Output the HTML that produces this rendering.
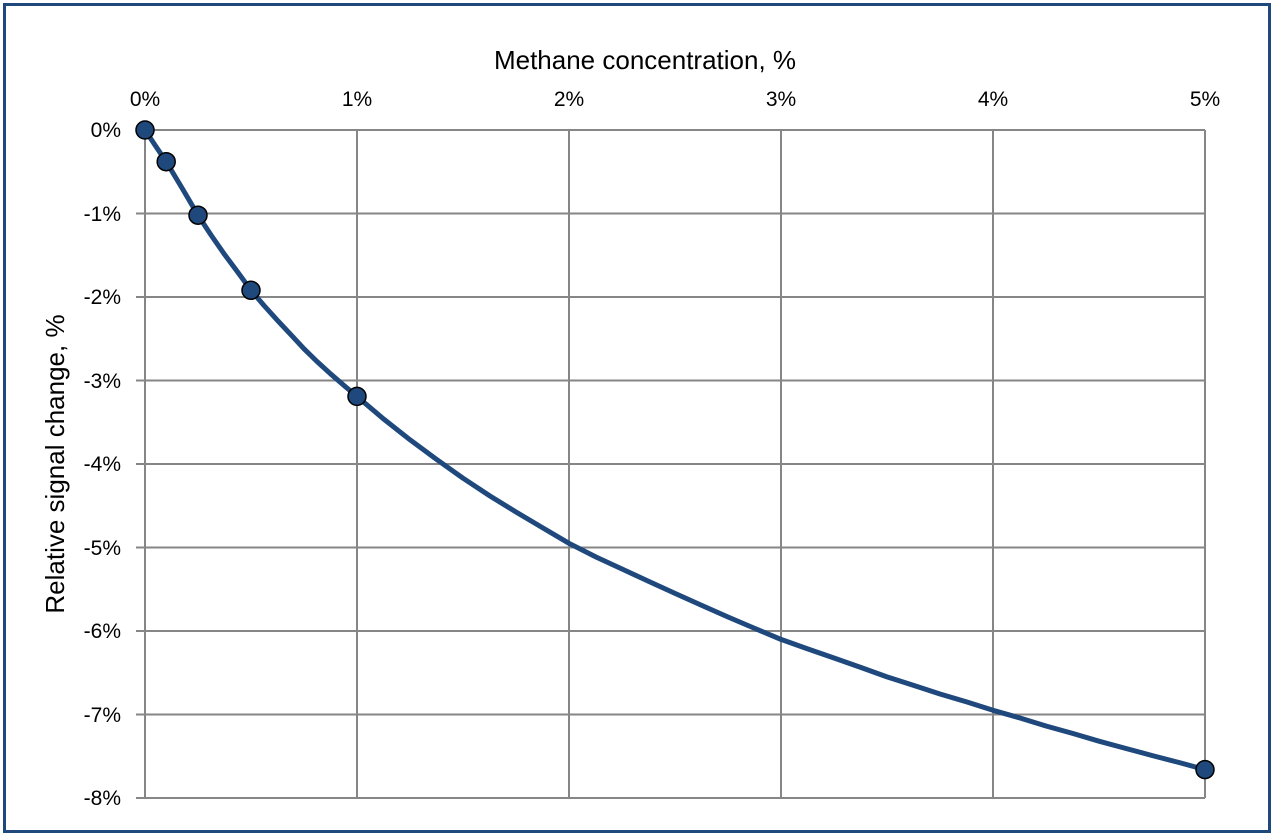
<!DOCTYPE html>
<html><head><meta charset="utf-8"><style>
body{margin:0;background:#fff;}
svg{display:block;font-family:"Liberation Sans",sans-serif;}
</style></head><body>
<svg width="1274" height="836" viewBox="0 0 1274 836">
<rect x="0" y="0" width="1274" height="836" fill="#fff"/>
<rect x="4.5" y="4.5" width="1265" height="827" fill="none" stroke="#1f497d" stroke-width="3"/>
<g stroke="#868686" stroke-width="2" fill="none">
<line x1="136" y1="130" x2="1205" y2="130"/>
<line x1="136" y1="213.5" x2="1205" y2="213.5"/>
<line x1="136" y1="297" x2="1205" y2="297"/>
<line x1="136" y1="380.5" x2="1205" y2="380.5"/>
<line x1="136" y1="464" x2="1205" y2="464"/>
<line x1="136" y1="547.5" x2="1205" y2="547.5"/>
<line x1="136" y1="631" x2="1205" y2="631"/>
<line x1="136" y1="714.5" x2="1205" y2="714.5"/>
<line x1="136" y1="798" x2="1205" y2="798"/>
<line x1="145" y1="130" x2="145" y2="798"/>
<line x1="357" y1="130" x2="357" y2="798"/>
<line x1="569" y1="130" x2="569" y2="798"/>
<line x1="781" y1="130" x2="781" y2="798"/>
<line x1="993" y1="130" x2="993" y2="798"/>
<line x1="1205" y1="130" x2="1205" y2="798"/>
</g>
<g font-size="21" fill="#000" text-anchor="middle">
<text x="145" y="106">0%</text>
<text x="357" y="106">1%</text>
<text x="569" y="106">2%</text>
<text x="781" y="106">3%</text>
<text x="993" y="106">4%</text>
<text x="1205" y="106">5%</text>
</g>
<g font-size="21" fill="#000" text-anchor="end">
<text x="121" y="137">0%</text>
<text x="121" y="221">-1%</text>
<text x="121" y="304">-2%</text>
<text x="121" y="388">-3%</text>
<text x="121" y="471">-4%</text>
<text x="121" y="555">-5%</text>
<text x="121" y="638">-6%</text>
<text x="121" y="722">-7%</text>
<text x="121" y="805">-8%</text>
</g>
<text x="645" y="69" font-size="26" text-anchor="middle">Methane concentration, %</text>
<text transform="translate(64,464) rotate(-90)" font-size="26" text-anchor="middle">Relative signal change, %</text>
<polyline fill="none" stroke="#1f497d" stroke-width="5" stroke-linejoin="round" stroke-linecap="round"
points="145,130 155.6,146 166.2,161.7 182,188 198,215.2 211,235 224.5,254.4 238,272.5 251,290.3 264,305.5 277.5,320.4 291,334.8 304,348.8 317,361.5 330.5,373.8 344,385.5 357,396.4 383,418.5 410,439.8 436,459 463,478.2 490,496 516,512 543,528 569,543.3 596,557 622,569 649,581.5 675,593.4 702,605.5 728,617 755,628.5 781,639.4 808,649 834,658 861,667.5 887,676.9 914,685.5 940,694 967,702 993,710.3 1020,718 1046,726 1073,733.5 1099,741.2 1126,748.5 1152,755.5 1179,762.5 1205,769.6"/>
<g fill="#1f497d" stroke="#000" stroke-width="1.5">
<circle cx="145" cy="130" r="9"/>
<circle cx="166.2" cy="161.7" r="9"/>
<circle cx="198" cy="215.2" r="9"/>
<circle cx="251" cy="290.3" r="9"/>
<circle cx="357" cy="396.4" r="9"/>
<circle cx="1205" cy="769.6" r="9"/>
</g>
</svg>
</body></html>
